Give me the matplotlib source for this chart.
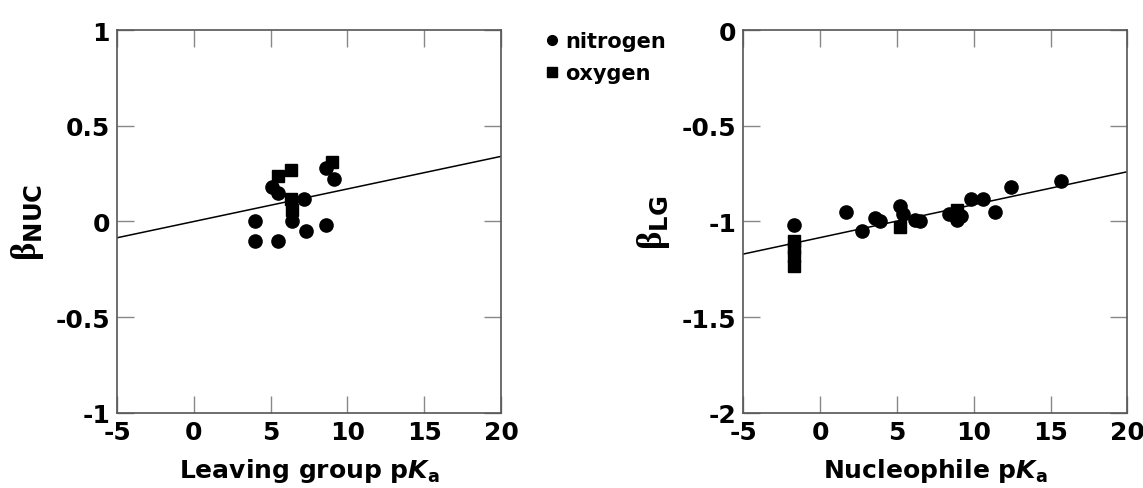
import matplotlib
matplotlib.use("Agg")
import numpy as np
import matplotlib.pyplot as plt
from matplotlib.lines import Line2D

plt.rcParams['font.family'] = 'DejaVu Sans'
plt.rcParams['font.weight'] = 'bold'
plt.rcParams['mathtext.fontset'] = 'custom'
plt.rcParams['mathtext.rm'] = 'DejaVu Sans'
plt.rcParams['mathtext.bf'] = 'DejaVu Sans:bold'
plt.rcParams['mathtext.sf'] = 'Liberation Serif'
plt.rcParams['mathtext.bfit'] = 'DejaVu Sans:italic:bold'

# left panel: beta_NUC vs leaving group pKa
lg_n_x = [9.1, 8.6, 5.1, 5.5, 7.2, 6.4, 4.0, 8.6, 7.3, 4.0, 5.5]
lg_n_y = [0.22, 0.28, 0.18, 0.15, 0.12, 0.0, 0.0, -0.02, -0.05, -0.1, -0.1]
lg_o_x = [9.0, 6.3, 5.5, 6.3, 6.4]
lg_o_y = [0.31, 0.27, 0.24, 0.12, 0.06]
lg_fit = (0.017, 0.0)  # slope, intercept

# right panel: beta_LG vs nucleophile pKa
nu_n_x = [-1.7, 1.7, 2.7, 3.6, 3.9, 5.2, 5.4, 6.2, 6.5, 8.4, 8.9, 9.2, 9.8, 10.6, 11.4, 12.4, 15.7]
nu_n_y = [-1.02, -0.95, -1.05, -0.98, -1.0, -0.92, -0.96, -0.99, -1.0, -0.96, -0.99, -0.97,
          -0.88, -0.88, -0.95, -0.82, -0.79]
nu_o_x = [-1.7, -1.7, -1.7, -1.7, 5.2, 8.9]
nu_o_y = [-1.10, -1.14, -1.18, -1.23, -1.03, -0.94]
nu_fit = (0.0172, -1.084)

xticks = [-5, 0, 5, 10, 15, 20]
left_yticks = [-1, -0.5, 0, 0.5, 1]
left_ylabels = ['-1', '-0.5', '0', '0.5', '1']
right_yticks = [-2, -1.5, -1, -0.5, 0]
right_ylabels = ['-2', '-1.5', '-1', '-0.5', '0']

fig = plt.figure(figsize=(11.43, 4.89), dpi=100)
ax1 = fig.add_axes([0.1024, 0.1534, 0.3359, 0.7832])
ax2 = fig.add_axes([0.6503, 0.1534, 0.3361, 0.7832])


def style(ax, yt, ylab, xlabel, ylabel):
    ax.set_xlim(-5, 20)
    ax.set_xticks(xticks)
    ax.set_xticklabels([str(t) for t in xticks])
    ax.set_ylim(yt[0], yt[-1])
    ax.set_yticks(yt)
    ax.set_yticklabels(ylab)
    ax.tick_params(direction='in', length=12, width=1, color='#888888',
                   top=True, right=True, labelsize=18, pad=5)
    for lbl in ax.get_xticklabels() + ax.get_yticklabels():
        lbl.set_fontweight('bold')
    for s in ax.spines.values():
        s.set_color('#555555')
        s.set_linewidth(1.2)
    ax.set_xlabel(xlabel, fontsize=18, fontweight='bold', labelpad=9)
    ax.set_ylabel(ylabel, fontsize=25, labelpad=7)


def draw(ax, nx, ny, ox, oy, fit):
    ax.plot(nx, ny, 'o', color='black', markersize=9.5, clip_on=False)
    ax.plot(ox, oy, 's', color='black', markersize=8, clip_on=False)
    xs = np.array([-5, 20])
    ax.plot(xs, fit[0] * xs + fit[1], color='black', linewidth=1.1)


draw(ax1, lg_n_x, lg_n_y, lg_o_x, lg_o_y, lg_fit)
draw(ax2, nu_n_x, nu_n_y, nu_o_x, nu_o_y, nu_fit)

style(ax1, left_yticks, left_ylabels, r'Leaving group p$\mathbfit{K}_\mathregular{a}$',
      r'$\mathsf{\beta}_{\mathbf{NUC}}$')
style(ax2, right_yticks, right_ylabels, r'Nucleophile p$\mathbfit{K}_\mathregular{a}$',
      r'$\mathsf{\beta}_{\mathbf{LG}}$')

handles = [Line2D([], [], marker='o', ls='', color='black', markersize=7, label='nitrogen'),
           Line2D([], [], marker='s', ls='', color='black', markersize=7, label='oxygen')]
fig.legend(handles=handles, loc='upper left', bbox_to_anchor=(0.465, 0.955),
           frameon=False, prop={'size': 15, 'weight': 'bold'},
           handletextpad=0.1, handlelength=1.0, labelspacing=0.55, borderpad=0)

fig.savefig('out.png', dpi=100)
